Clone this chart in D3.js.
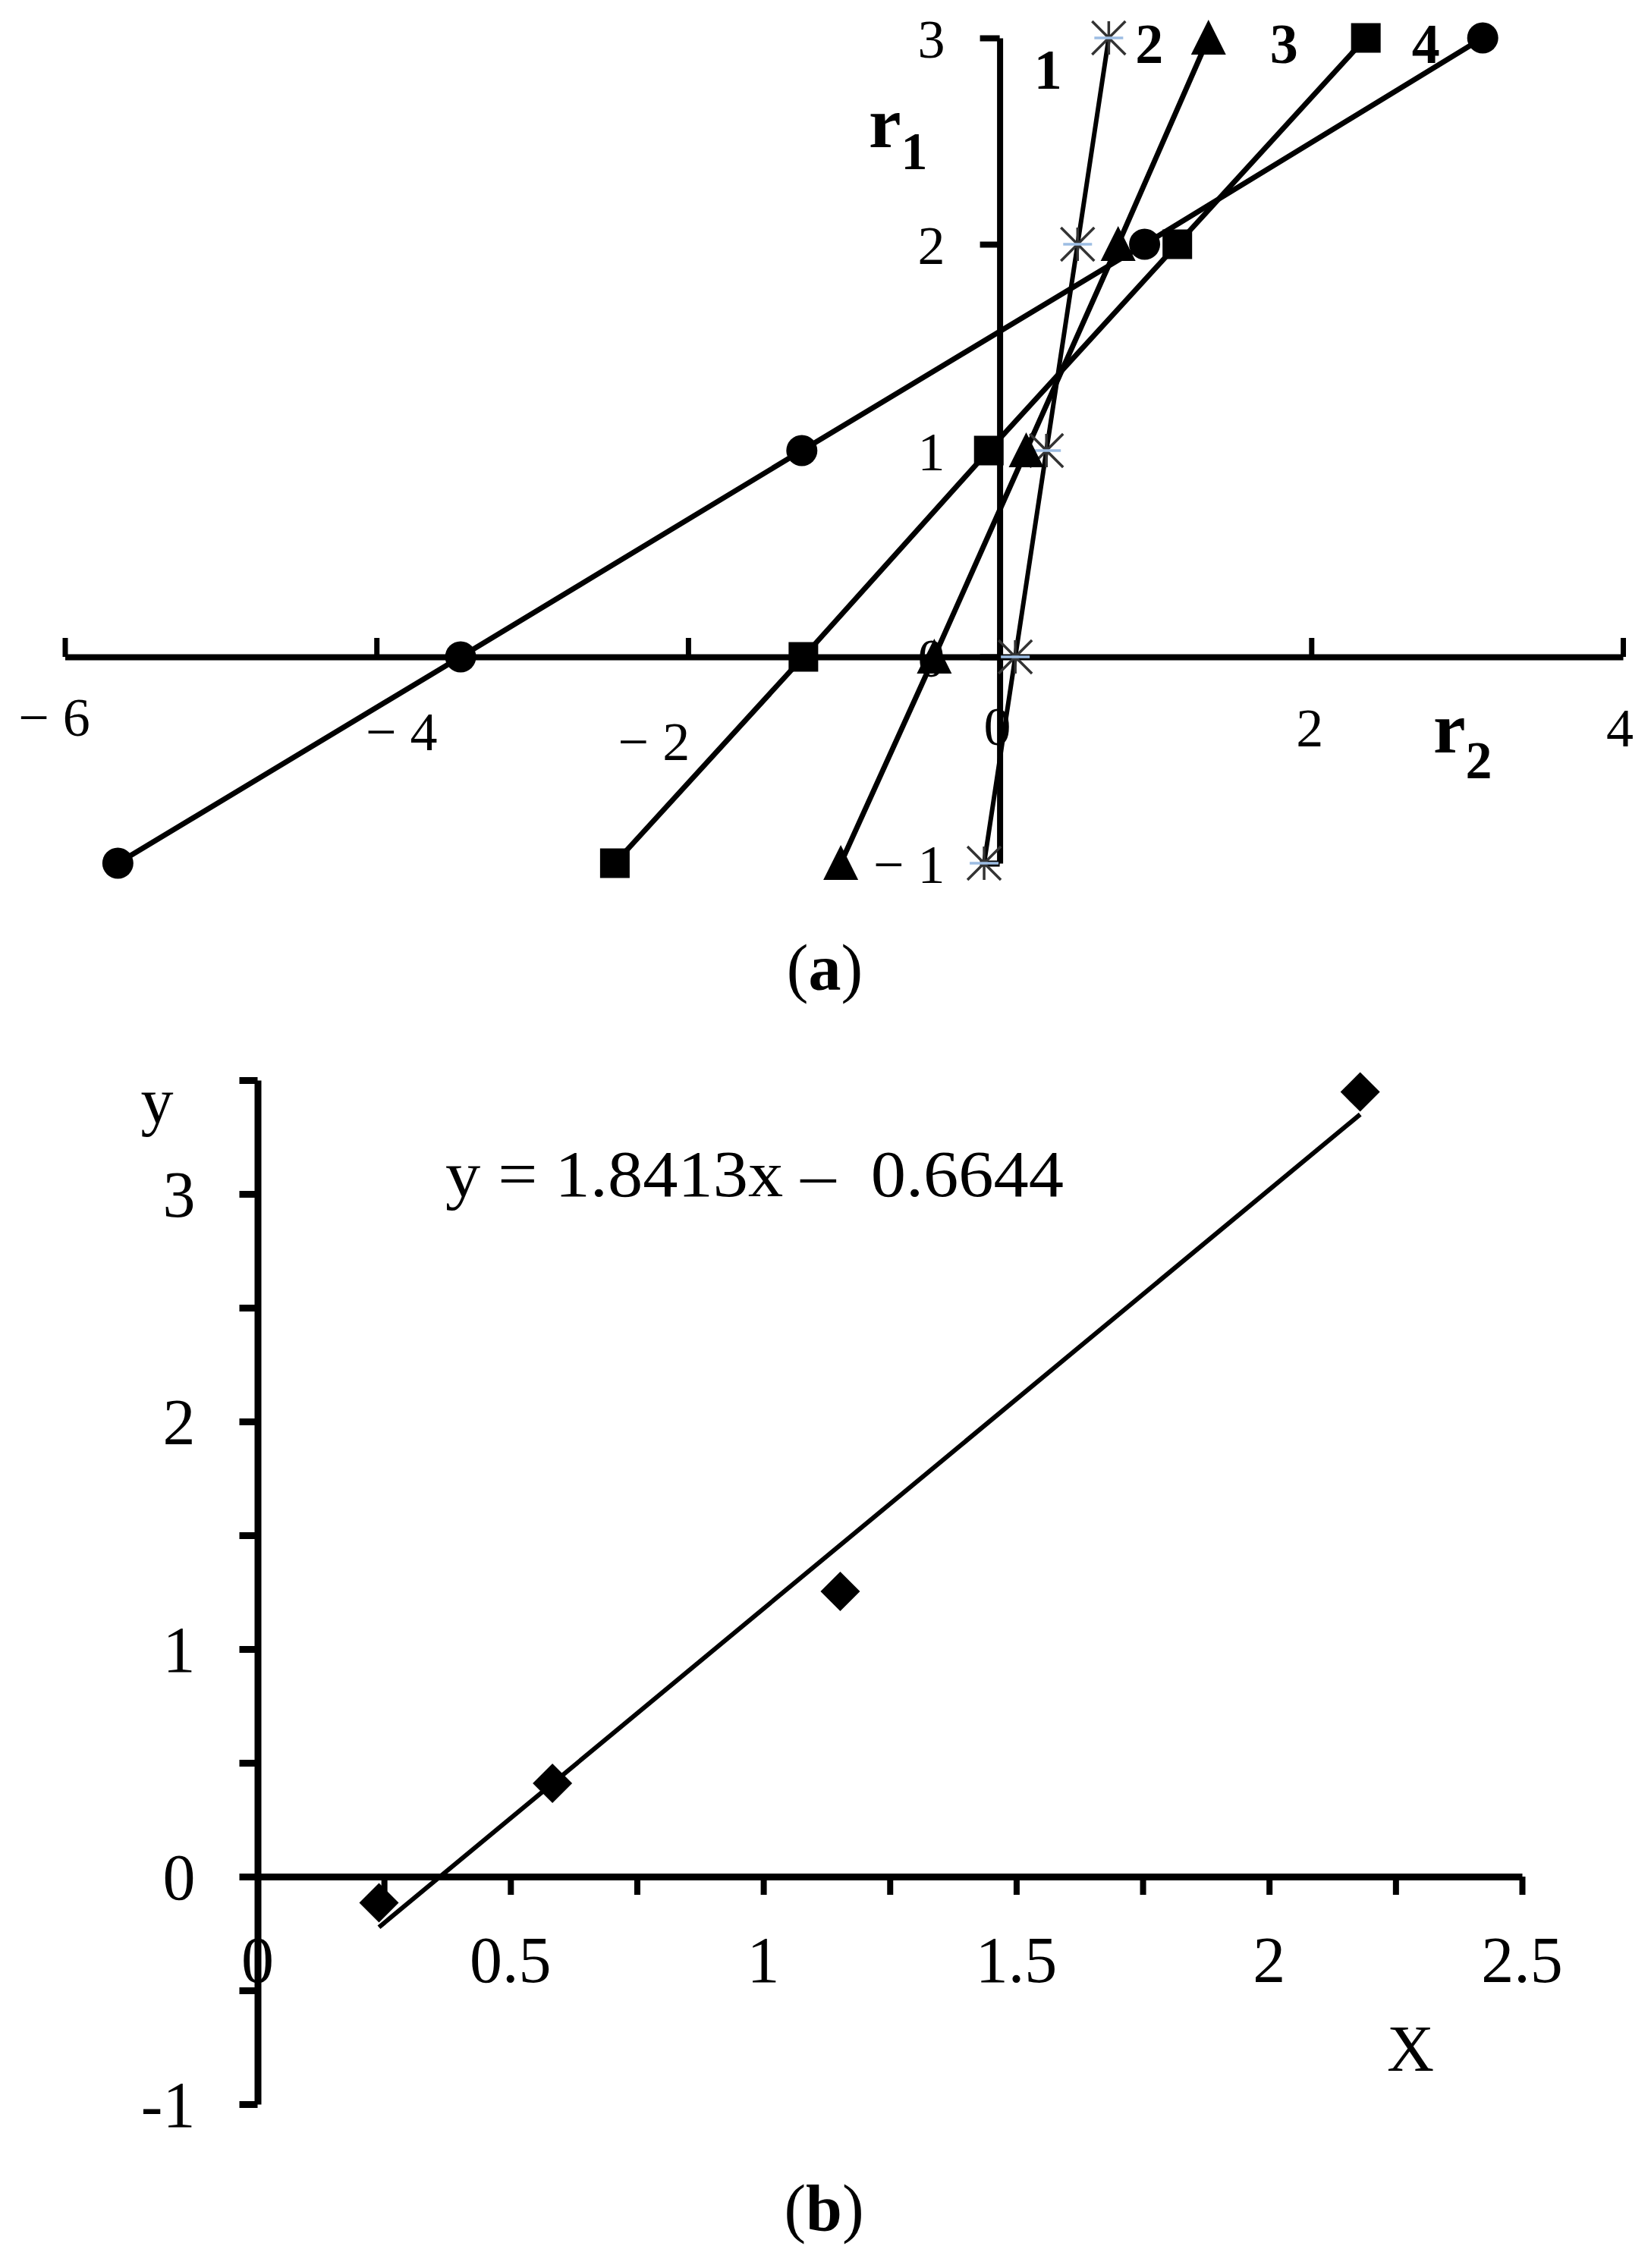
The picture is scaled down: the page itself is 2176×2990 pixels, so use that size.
<!DOCTYPE html>
<html><head><meta charset="utf-8">
<script src="https://cdn.jsdelivr.net/npm/d3@7"></script>
<style>
body{margin:0;background:#fff;}
text{font-family:"Liberation Serif","Times New Roman",serif;fill:#000;white-space:pre;}
</style>
</head><body>
<svg id="c" width="2176" height="2990"></svg>
<script>
// ---------- data: panel (a) ----------
const r1Levels = [-1, 0, 1, 2, 3];
const seriesNames = ["1", "2", "3", "4"];
const r2Series1 = [-0.10, 0.10, 0.30, 0.50, 0.70];
const r2Series2 = [-1.02, -0.42, 0.17, 0.76, 1.34];
const r2Series3 = [-2.47, -1.26, -0.07, 1.14, 2.35];
const r2Series4 = [-5.66, -3.46, -1.27, 0.93, 3.10];
const seriesMarkers = ["asterisk", "triangle", "square", "circle"];
const xTicksA = [-6, -4, -2, 0, 2, 4];
const yTicksA = [-1, 0, 1, 2, 3];

// ---------- data: panel (b) ----------
const xValuesB = [0.24, 0.583, 1.152, 2.18];
const yValuesB = [-0.115, 0.41, 1.253, 3.448];
const fitSlope = 1.8413;
const fitIntercept = -0.6644;
const equationLabel = "y = 1.8413x \u2013  0.6644";
const xTicksB = [0, 0.5, 1, 1.5, 2, 2.5];
const yTicksB = [-1, 0, 1, 2, 3];

// ---------- layout ----------
const svg = d3.select("#c");

// panel (a) scales
const xA = d3.scaleLinear().domain([-6, 4]).range([85.5, 2139]);
const yA = d3.scaleLinear().domain([-1, 3]).range([1138, 50]);

const gA = svg.append("g");

// x axis (a)
const axA = gA.append("g").attr("transform", `translate(0,${yA(0)})`)
  .call(d3.axisTop(xA).tickValues(xTicksA).tickSize(25).tickSizeOuter(0).tickFormat(""));
axA.select(".domain").attr("stroke", "#000").attr("stroke-width", 8);
axA.selectAll(".tick line").attr("stroke", "#000").attr("stroke-width", 7);
axA.selectAll(".tick text").remove();

// y axis (a)
const ayA = gA.append("g").attr("transform", `translate(${xA(0)},0)`)
  .call(d3.axisLeft(yA).tickValues(yTicksA).tickSize(26).tickSizeOuter(0).tickFormat(""));
ayA.select(".domain").attr("stroke", "#000").attr("stroke-width", 8);
ayA.selectAll(".tick line").attr("stroke", "#000").attr("stroke-width", 8);
ayA.selectAll(".tick text").remove();

// x tick labels (a) – hand-placed offsets like the original figure
const xLabelNudgeA = {"-6": [-14, 104], "-4": [33, 123], "-2": [-45, 136], "0": [-3, 116], "2": [-2, 118], "4": [-4, 118]};
gA.selectAll("text.xl").data(xTicksA).join("text")
  .attr("class", "xl")
  .attr("x", d => xA(d) + xLabelNudgeA[d][0])
  .attr("y", d => yA(0) + xLabelNudgeA[d][1])
  .attr("text-anchor", "middle").attr("font-size", 72)
  .text(d => d < 0 ? "\u2212 " + Math.abs(d) : String(d));

// y tick labels (a)
gA.selectAll("text.yl").data(yTicksA).join("text")
  .attr("class", "yl")
  .attr("x", xA(0) - 72)
  .attr("y", d => yA(d) + 26)
  .attr("text-anchor", "end").attr("font-size", 72)
  .text(d => d < 0 ? "\u2212 " + Math.abs(d) : String(d));

// axis titles (a)
const r1t = gA.append("text").attr("x", 1145).attr("y", 194).attr("font-weight", "bold").attr("font-size", 96);
r1t.append("tspan").text("r");
r1t.append("tspan").attr("dy", 29).attr("font-size", 70).text("1");
const r2t = gA.append("text").attr("x", 1889).attr("y", 992).attr("font-weight", "bold").attr("font-size", 96);
r2t.append("tspan").text("r");
r2t.append("tspan").attr("dy", 34).attr("font-size", 70).text("2");

// series
const seriesA = [r2Series1, r2Series2, r2Series3, r2Series4].map((vals, i) => ({
  name: seriesNames[i], marker: seriesMarkers[i],
  pts: vals.map((v, j) => ({r2: v, r1: r1Levels[j]}))
}));
const lineA = d3.line().x(d => xA(d.r2)).y(d => yA(d.r1));
gA.selectAll("path.ser").data(seriesA).join("path")
  .attr("class", "ser").attr("d", d => lineA(d.pts))
  .attr("fill", "none").attr("stroke", "#000")
  .attr("stroke-width", (d, i) => i === 0 ? 6 : 7);

// markers
seriesA.forEach(s => {
  const g = gA.append("g");
  s.pts.forEach(p => {
    const cx = xA(p.r2), cy = yA(p.r1);
    if (s.marker === "circle") {
      g.append("circle").attr("cx", cx).attr("cy", cy).attr("r", 20.5).attr("fill", "#000");
    } else if (s.marker === "square") {
      g.append("rect").attr("x", cx - 19.5).attr("y", cy - 19.5).attr("width", 39).attr("height", 39).attr("fill", "#000");
    } else if (s.marker === "triangle") {
      g.append("path").attr("d", `M${cx},${cy - 24}L${cx + 23},${cy + 22}L${cx - 23},${cy + 22}Z`).attr("fill", "#000");
    } else {
      const h = 22;
      g.append("path").attr("d", `M${cx - h},${cy - h}L${cx + h},${cy + h}M${cx + h},${cy - h}L${cx - h},${cy + h}M${cx},${cy - h}L${cx},${cy + h}`)
        .attr("stroke", "#333").attr("stroke-width", 3.5).attr("fill", "none");
      g.append("path").attr("d", `M${cx - 19},${cy}L${cx + 19},${cy}`)
        .attr("stroke", "#9dbde3").attr("stroke-width", 3.5);
    }
  });
});

// series labels
const seriesLabelNudge = [[-80, 67], [-78, 33], [-108, 33], [-75, 33]];
gA.selectAll("text.sl").data(seriesA).join("text")
  .attr("class", "sl")
  .attr("x", (d, i) => xA(d.pts[d.pts.length - 1].r2) + seriesLabelNudge[i][0])
  .attr("y", (d, i) => yA(d.pts[d.pts.length - 1].r1) + seriesLabelNudge[i][1])
  .attr("text-anchor", "middle").attr("font-weight", "bold").attr("font-size", 74)
  .text(d => d.name);

// caption (a)
svg.append("text").attr("x", 1087).attr("y", 1305).attr("text-anchor", "middle")
  .attr("font-size", 86)
  .call(t => { t.append("tspan").text("("); t.append("tspan").attr("font-weight", "bold").text("a"); t.append("tspan").text(")"); });

// ---------- panel (b) ----------
const xB = d3.scaleLinear().domain([0, 2.5]).range([339.5, 2006]);
const yB = d3.scaleLinear().domain([-1, 3.5]).range([2774, 1424]);
const gB = svg.append("g");

const axB = gB.append("g").attr("transform", `translate(0,${yB(0)})`)
  .call(d3.axisBottom(xB).tickValues(d3.range(0, 2.5001, 0.25)).tickSize(24).tickSizeOuter(0).tickFormat(""));
axB.select(".domain").attr("stroke", "#000").attr("stroke-width", 9);
axB.selectAll(".tick line").attr("stroke", "#000").attr("stroke-width", 8);
axB.selectAll(".tick text").remove();

const ayB = gB.append("g").attr("transform", `translate(${xB(0)},0)`)
  .call(d3.axisLeft(yB).tickValues(d3.range(-1, 3.5001, 0.5)).tickSize(24).tickSizeOuter(0).tickFormat(""));
ayB.select(".domain").attr("stroke", "#000").attr("stroke-width", 9);
ayB.selectAll(".tick line").attr("stroke", "#000").attr("stroke-width", 9);
ayB.selectAll(".tick text").remove();

gB.selectAll("text.xl").data(xTicksB).join("text")
  .attr("class", "xl").attr("x", d => xB(d)).attr("y", yB(0) + 139)
  .attr("text-anchor", "middle").attr("font-size", 86).text(d => String(d));
gB.selectAll("text.yl").data(yTicksB).join("text")
  .attr("class", "yl").attr("x", xB(0) - 82).attr("y", d => yB(d) + 30)
  .attr("text-anchor", "end").attr("font-size", 86).text(d => String(d));

gB.append("text").attr("x", 207).attr("y", 1480).attr("text-anchor", "middle").attr("font-size", 86).text("y");
gB.append("text").attr("x", 1859).attr("y", 2730).attr("text-anchor", "middle").attr("font-size", 86).text("X");
gB.append("text").attr("x", 587).attr("y", 1577).attr("font-size", 86)
  .attr("textLength", 815).attr("lengthAdjust", "spacingAndGlyphs").text(equationLabel);

// trend line across data range
const fitX = d3.extent(xValuesB);
gB.append("path")
  .attr("d", d3.line().x(d => xB(d)).y(d => yB(fitSlope * d + fitIntercept))(fitX))
  .attr("stroke", "#000").attr("stroke-width", 6).attr("fill", "none");

// diamonds
gB.selectAll("path.pt").data(xValuesB.map((x, i) => [x, yValuesB[i]])).join("path")
  .attr("class", "pt")
  .attr("d", d => { const cx = xB(d[0]), cy = yB(d[1]); return `M${cx},${cy - 26}L${cx + 26},${cy}L${cx},${cy + 26}L${cx - 26},${cy}Z`; })
  .attr("fill", "#000");

// caption (b)
svg.append("text").attr("x", 1086).attr("y", 2940).attr("text-anchor", "middle")
  .attr("font-size", 86)
  .call(t => { t.append("tspan").text("("); t.append("tspan").attr("font-weight", "bold").text("b"); t.append("tspan").text(")"); });
</script>
</body></html>
